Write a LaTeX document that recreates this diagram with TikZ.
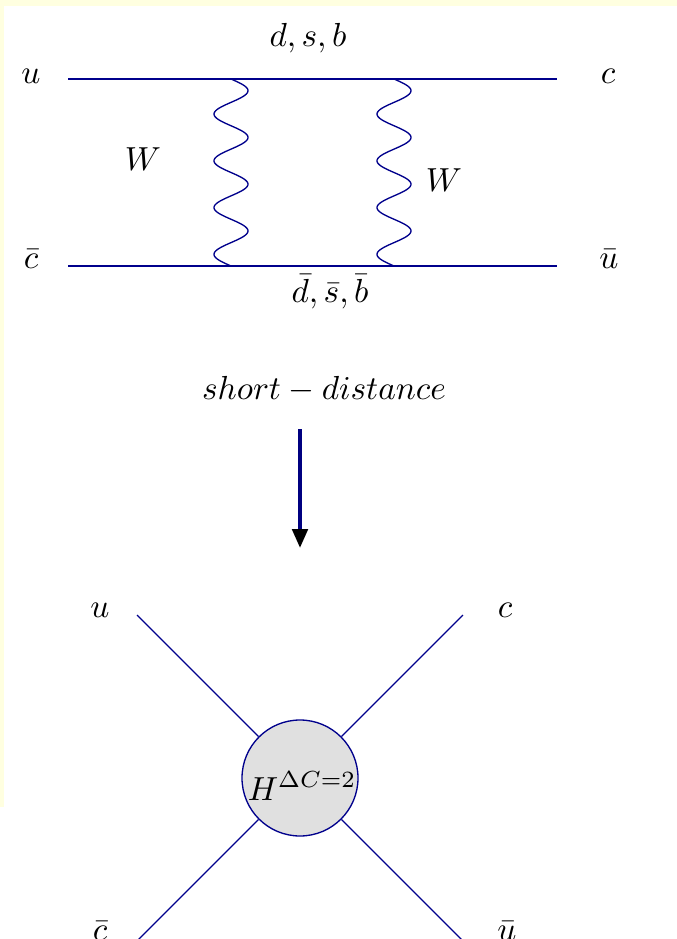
\documentclass[tikz,border=0pt]{standalone}
\usetikzlibrary{arrows.meta}
\definecolor{linecol}{RGB}{0,0,140}
\definecolor{arrowcol}{RGB}{0,0,128}
\definecolor{bgyellow}{RGB}{255,255,224}
\definecolor{blobgray}{RGB}{224,224,224}
\begin{document}
\begin{tikzpicture}[x=0.3pt,y=-0.3pt,
  lbl/.style={anchor=base,inner sep=0pt},
  fermion/.style={draw=linecol,line width=0.4pt},
  boson/.style={draw=linecol,line width=0.4pt},
  bigarrow/.style={draw=arrowcol,line width=1.2pt,
    -{Triangle[width=4.6pt,length=5.7pt,color=black]}},
  blob/.style={circle,draw=linecol,fill=blobgray,line width=0.4pt,
    minimum size=34.8pt,inner sep=0pt}]
\clip (0,0) rectangle (677,939);
\fill[bgyellow] (0,0) rectangle (677,807);
\fill[white] (4,6) rectangle (677,939);

% upper box diagram
\node[lbl] (u1) at (31,83) {$u$};
\node[lbl] (c1) at (608,83) {$c$};
\node[lbl] (cb1) at (31,268) {$\bar c$};
\node[lbl] (ub1) at (609,268) {$\bar u$};
\node[lbl] (dsb) at (308,46) {$d,s,b$};
\node[lbl] (dsbb) at (330,302) {$\bar d,\bar s,\bar b$};
\node[lbl] (W1) at (143,170) {$W$};
\node[lbl] (W2) at (444,191) {$W$};

\coordinate (t1) at (68,79);
\coordinate (t2) at (557,79);
\coordinate (b1) at (68,266);
\coordinate (b2) at (557,266);
\coordinate (w1t) at (231,79);
\coordinate (w1b) at (231,266);
\coordinate (w2t) at (394,79);
\coordinate (w2b) at (394,266);

\draw[fermion] (t1) -- (t2);
\draw[fermion] (b1) -- (b2);
\draw[boson,shift={(w1t)}] plot[domain=0:187,samples=160,smooth]
  ({17*sin(\x/46.75*360)},{\x}) -- (w1b);
\draw[boson,shift={(w2t)}] plot[domain=0:187,samples=160,smooth]
  ({17*sin(\x/46.75*360)},{\x}) -- (w2b);

% arrow
\node[lbl] (sd) at (324,399) {$short-distance$};
\coordinate (a1) at (300,429);
\coordinate (a2) at (300,548);
\draw[bigarrow] (a1) -- (a2);

% effective vertex
\node[blob] (H) at (300,778) {};
\node[lbl] (Ht) at (302,800) {$H^{\Delta C=2}$};
\coordinate (ul) at (137,615);
\coordinate (ur) at (463,615);
\coordinate (dl) at (130,948);
\coordinate (dr) at (470,948);
\draw[fermion] (ul) -- (H);
\draw[fermion] (ur) -- (H);
\draw[fermion] (dl) -- (H);
\draw[fermion] (dr) -- (H);
\node[lbl] (u2) at (100,617) {$u$};
\node[lbl] (c2) at (505,617) {$c$};
\node[lbl] (cb2) at (100,940) {$\bar c$};
\node[lbl] (ub2) at (507,940) {$\bar u$};
\end{tikzpicture}
\end{document}
